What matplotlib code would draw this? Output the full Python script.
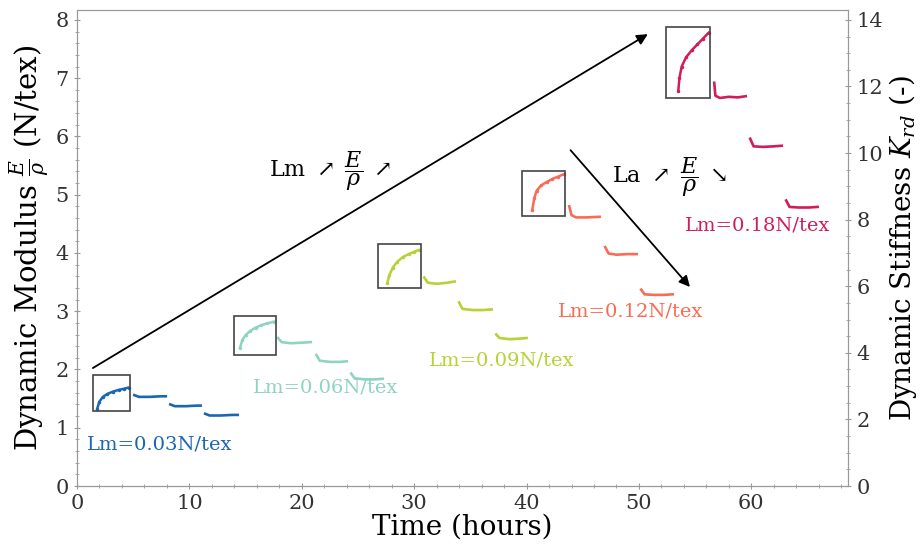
import matplotlib
matplotlib.use("Agg")
import matplotlib.pyplot as plt
from matplotlib.patches import Rectangle
from matplotlib.ticker import MultipleLocator

plt.rcParams["font.family"] = ["DejaVu Serif"]
plt.rcParams["mathtext.fontset"] = "dejavuserif"

# creep curves, one rising segment (boxed) + three recovery plateaus per load level
colors = ["#1a66b3", "#8fd3c1", "#b5d334", "#fa6b55", "#d01c5b"]
labels = ["Lm=0.03N/tex", "Lm=0.06N/tex", "Lm=0.09N/tex", "Lm=0.12N/tex", "Lm=0.18N/tex"]

rise_t = [
    [1.8, 2.0, 2.3, 2.7, 3.2, 3.7, 4.2, 4.6],
    [14.5, 14.7, 15.0, 15.4, 15.9, 16.4, 16.9, 17.5],
    [27.6, 27.8, 28.1, 28.5, 29.0, 29.5, 30.0, 30.4],
    [40.5, 40.7, 40.9, 41.3, 41.8, 42.3, 42.8, 43.3],
    [53.5, 53.6, 53.8, 54.2, 54.7, 55.2, 55.7, 56.2],
]
rise_v = [
    [1.33, 1.45, 1.53, 1.58, 1.62, 1.65, 1.67, 1.69],
    [2.37, 2.50, 2.59, 2.66, 2.72, 2.76, 2.79, 2.82],
    [3.48, 3.62, 3.75, 3.85, 3.93, 3.98, 4.02, 4.05],
    [4.73, 4.95, 5.07, 5.16, 5.22, 5.27, 5.31, 5.35],
    [6.78, 7.00, 7.20, 7.36, 7.48, 7.58, 7.68, 7.78],
]

plateau_t = [
    [[5.1, 5.5, 6.5, 7.5, 7.9], [8.3, 8.7, 9.7, 10.7, 11.0], [11.4, 11.8, 12.8, 13.8, 14.3]],
    [[17.9, 18.2, 19.0, 20.0, 20.8], [21.3, 21.6, 22.5, 23.4, 24.0], [24.4, 24.7, 25.6, 26.5, 27.2]],
    [[30.9, 31.2, 32.0, 33.0, 33.6], [34.0, 34.3, 35.2, 36.1, 36.9], [37.3, 37.6, 38.5, 39.4, 40.0]],
    [[43.8, 44.0, 44.4, 45.3, 46.5], [47.0, 47.3, 48.0, 49.0, 49.8], [50.2, 50.5, 51.3, 52.2, 53.0]],
    [[56.7, 56.8, 57.2, 58.0, 58.8, 59.5], [59.9, 60.2, 61.0, 62.0, 62.7], [63.1, 63.4, 64.2, 65.1, 65.9]],
]
plateau_v = [
    [[1.56, 1.53, 1.53, 1.54, 1.54], [1.40, 1.37, 1.37, 1.38, 1.38], [1.24, 1.21, 1.21, 1.22, 1.22]],
    [[2.54, 2.47, 2.45, 2.46, 2.47], [2.25, 2.15, 2.13, 2.13, 2.14], [1.93, 1.85, 1.83, 1.83, 1.84]],
    [[3.58, 3.49, 3.47, 3.49, 3.51], [3.15, 3.04, 3.02, 3.02, 3.03], [2.60, 2.54, 2.52, 2.53, 2.54]],
    [[4.80, 4.65, 4.61, 4.61, 4.62], [4.10, 3.99, 3.97, 3.98, 3.98], [3.37, 3.29, 3.28, 3.28, 3.29]],
    [[6.92, 6.70, 6.66, 6.68, 6.67, 6.69], [5.96, 5.83, 5.82, 5.83, 5.84], [4.90, 4.79, 4.78, 4.78, 4.79]],
]

# boxes around the loading segment: (t0, t1, v0, v1)
boxes = [
    (1.4, 4.7, 1.28, 1.91),
    (14.0, 17.7, 2.25, 2.92),
    (26.8, 30.6, 3.40, 4.15),
    (39.6, 43.4, 4.64, 5.41),
    (52.4, 56.3, 6.66, 7.87),
]

label_t = [7.4, 22.1, 37.8, 49.3, 60.6]
label_v = [0.72, 1.69, 2.15, 2.99, 4.47]

fig = plt.figure(figsize=(9.21, 5.55), dpi=100)
ax = fig.add_axes([77 / 921, 69 / 555, 771 / 921, 476 / 555])

for i, c in enumerate(colors):
    ax.plot(rise_t[i], rise_v[i], color=c, lw=1.8, marker=".", ms=3)
    for pt, pv in zip(plateau_t[i], plateau_v[i]):
        ax.plot(pt, pv, color=c, lw=1.9)
    t0, t1, v0, v1 = boxes[i]
    ax.add_patch(Rectangle((t0, v0), t1 - t0, v1 - v0, fill=False,
                           edgecolor="#444444", lw=1.2, zorder=3))
    ax.text(label_t[i], label_v[i], labels[i], color=c, fontsize=14,
            ha="center", va="center")

ax.annotate("", xy=(51.0, 7.78), xytext=(1.2, 2.0),
            arrowprops=dict(arrowstyle="-|>", color="black", lw=1.3, mutation_scale=16))
ax.annotate("", xy=(54.7, 3.38), xytext=(43.75, 5.80),
            arrowprops=dict(arrowstyle="-|>", color="black", lw=1.3, mutation_scale=16))

ax.text(17.05, 5.40, r"Lm $\nearrow\;\dfrac{E}{\rho}\;\nearrow$", fontsize=16,
        ha="left", va="center")
ax.text(47.6, 5.30, r"La $\nearrow\;\dfrac{E}{\rho}\;\searrow$", fontsize=16,
        ha="left", va="center")

ax.set_xlim(0, 68.6)
ax.set_ylim(0, 8.17)
ax.xaxis.set_major_locator(MultipleLocator(10))
ax.xaxis.set_minor_locator(MultipleLocator(2))
ax.yaxis.set_major_locator(MultipleLocator(1))
ax.yaxis.set_minor_locator(MultipleLocator(0.2))
ax.set_xlabel("Time (hours)", fontsize=20, labelpad=0)
ax.set_ylabel(r"Dynamic Modulus $\frac{E}{\rho}$ (N/tex)", fontsize=21, labelpad=3)

ax2 = ax.twinx()
ax2.set_ylim(0, 8.17 * 1.75)
ax2.yaxis.set_major_locator(MultipleLocator(2))
ax2.yaxis.set_minor_locator(MultipleLocator(0.5))
ax2.set_ylabel(r"Dynamic Stiffness $K_{rd}$ (-)", fontsize=20, labelpad=3)

for a in (ax, ax2):
    for s in a.spines.values():
        s.set_color("#999999")
    a.tick_params(which="both", direction="inout", colors="#999999", labelcolor="#333333",
                  labelsize=15)
    a.tick_params(which="major", length=5)
    a.tick_params(which="minor", length=3)

fig.savefig("out.png", dpi=100)
